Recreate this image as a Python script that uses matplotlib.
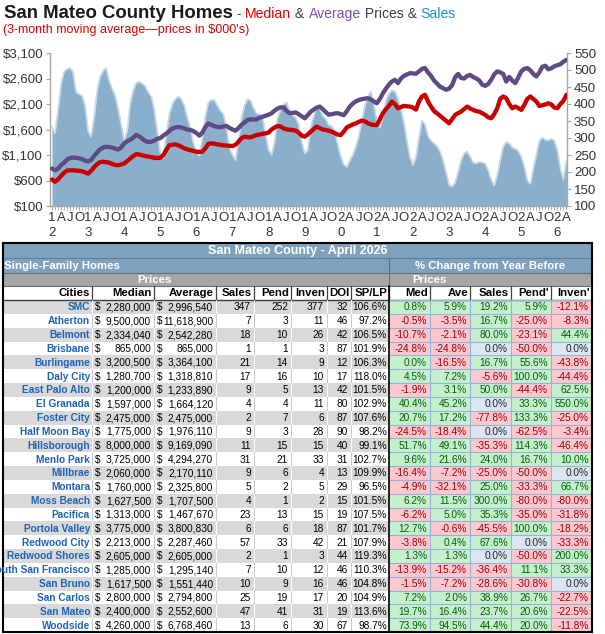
import numpy as np
import matplotlib
matplotlib.use('Agg')
import matplotlib.pyplot as plt
from matplotlib.patches import Rectangle

plt.rcParams['font.family'] = ['Liberation Sans', 'DejaVu Sans']

W, H = 605, 634

# 3-month moving averages, Jan 2012 .. Apr 2026 (prices in $000's)
avg_by_year = [
    [835, 800, 830, 900, 950, 1010, 1040, 1050, 1045, 1035, 1020, 990],
    [975, 1000, 1080, 1150, 1215, 1245, 1262, 1255, 1245, 1225, 1205, 1250],
    [1325, 1370, 1395, 1440, 1495, 1465, 1420, 1375, 1355, 1360, 1380, 1420],
    [1430, 1480, 1520, 1570, 1620, 1640, 1650, 1640, 1620, 1600, 1590, 1570],
    [1530, 1480, 1540, 1650, 1720, 1690, 1665, 1650, 1645, 1660, 1670, 1630],
    [1600, 1575, 1630, 1690, 1740, 1785, 1800, 1795, 1800, 1830, 1850, 1870],
    [1890, 1920, 1970, 2010, 2035, 2030, 1960, 1920, 1925, 1935, 1900, 1860],
    [1820, 1880, 1950, 1990, 2030, 2050, 2000, 1940, 1890, 1900, 1915, 1920],
    [1900, 1880, 1960, 2050, 2110, 2150, 2180, 2195, 2205, 2214, 2190, 2150],
    [2115, 2200, 2310, 2400, 2480, 2540, 2575, 2510, 2600, 2650, 2680, 2706],
    [2700, 2693, 2740, 2790, 2805, 2720, 2650, 2560, 2500, 2440, 2410, 2380],
    [2400, 2470, 2620, 2690, 2610, 2600, 2650, 2670, 2630, 2600, 2565, 2480],
    [2457, 2490, 2575, 2680, 2740, 2720, 2690, 2540, 2630, 2560, 2509, 2620],
    [2740, 2790, 2805, 2760, 2690, 2640, 2720, 2830, 2850, 2780, 2800, 2840],
    [2860, 2880, 2930, 2965],
]
med_by_year = [
    [620, 575, 620, 690, 750, 795, 800, 800, 795, 790, 780, 760],
    [735, 790, 860, 920, 960, 968, 960, 950, 925, 905, 900, 915],
    [934, 980, 1030, 1080, 1117, 1110, 1095, 1080, 1070, 1060, 1045, 1040],
    [1045, 1100, 1200, 1290, 1300, 1308, 1290, 1262, 1230, 1210, 1196, 1180],
    [1165, 1160, 1165, 1230, 1320, 1327, 1320, 1310, 1300, 1290, 1285, 1278],
    [1275, 1300, 1360, 1430, 1459, 1450, 1446, 1470, 1492, 1500, 1515, 1524],
    [1540, 1600, 1640, 1669, 1660, 1620, 1603, 1595, 1590, 1577, 1540, 1480],
    [1459, 1500, 1557, 1610, 1656, 1630, 1600, 1590, 1575, 1557, 1530, 1500],
    [1492, 1560, 1640, 1670, 1700, 1720, 1750, 1774, 1760, 1721, 1700, 1690],
    [1688, 1800, 1918, 2000, 2063, 2148, 2100, 2017, 2040, 2063, 2055, 2050],
    [2030, 1990, 2150, 2247, 2280, 2150, 2050, 1960, 1918, 1870, 1820, 1770],
    [1721, 1800, 1886, 1920, 1951, 2000, 2050, 2010, 1984, 1960, 1951, 1920],
    [1886, 1840, 1820, 1900, 2017, 2200, 2247, 2214, 2100, 2017, 2050, 2020],
    [1984, 2080, 2200, 2247, 2200, 2150, 2063, 2075, 2090, 2115, 2090, 2030],
    [2017, 2100, 2160, 2280],
]
sales_by_year = [
    [333, 314, 380, 460, 495, 503, 506, 495, 435, 428, 425, 395],
    [320, 304, 360, 440, 480, 498, 506, 468, 445, 425, 385, 340],
    [294, 320, 400, 440, 462, 466, 460, 452, 435, 422, 385, 320],
    [255, 240, 310, 370, 400, 415, 422, 415, 395, 360, 330, 285],
    [262, 248, 300, 365, 405, 412, 412, 395, 380, 370, 330, 270],
    [250, 235, 290, 360, 395, 415, 410, 388, 372, 370, 360, 310],
    [265, 250, 290, 360, 383, 400, 405, 380, 366, 360, 340, 290],
    [255, 265, 330, 365, 392, 385, 365, 355, 338, 335, 320, 280],
    [245, 222, 215, 235, 250, 274, 305, 350, 395, 422, 437, 400],
    [345, 330, 363, 410, 430, 440, 437, 415, 385, 345, 290, 245],
    [220, 245, 300, 352, 340, 305, 292, 284, 276, 260, 235, 200],
    [162, 157, 168, 200, 235, 255, 260, 245, 228, 225, 230, 228],
    [225, 205, 178, 160, 190, 235, 275, 288, 284, 272, 268, 262],
    [245, 218, 175, 165, 210, 250, 292, 302, 295, 293, 298, 292],
    [265, 210, 178, 235],
]
avg_3m = sum(avg_by_year, [])
med_3m = sum(med_by_year, [])
sales_3m = sum(sales_by_year, [])
first_year = 12
month_letters = {0: None, 3: 'A', 6: 'J', 9: 'O'}

# table, April 2026
cities = ["SMC", "Atherton", "Belmont", "Brisbane", "Burlingame", "Daly City",
          "East Palo Alto", "El Granada", "Foster City", "Half Moon Bay",
          "Hillsborough", "Menlo Park", "Millbrae", "Montara", "Moss Beach",
          "Pacifica", "Portola Valley", "Redwood City", "Redwood Shores",
          "South San Francisco", "San Bruno", "San Carlos", "San Mateo", "Woodside"]
median = [2280000, 9500000, 2334040, 865000, 3200500, 1280700, 1200000, 1597000,
          2475000, 1775000, 8000000, 3725000, 2060000, 1760000, 1627500, 1313000,
          3775000, 2213000, 2605000, 1285000, 1617500, 2800000, 2400000, 4260000]
average = [2996540, 11618900, 2542280, 865000, 3364100, 1318810, 1233890, 1664120,
           2475000, 1976110, 9169090, 4294270, 2170110, 2325800, 1707500, 1467670,
           3800830, 2287460, 2605000, 1295140, 1551440, 2794800, 2552600, 6768460]
sales = [347, 7, 18, 1, 21, 17, 9, 4, 2, 9, 11, 31, 9, 5, 4, 23, 6, 57, 2, 7, 10, 25, 47, 13]
pend = [252, 3, 10, 1, 14, 16, 5, 4, 7, 3, 15, 21, 6, 2, 1, 13, 6, 33, 1, 10, 9, 19, 41, 6]
inven = [377, 11, 26, 3, 9, 10, 13, 11, 6, 28, 15, 33, 4, 5, 2, 15, 18, 42, 3, 12, 16, 17, 31, 30]
doi = [32, 46, 42, 87, 12, 17, 42, 80, 87, 90, 40, 31, 13, 29, 15, 19, 87, 21, 44, 46, 46, 20, 19, 67]
splp = [106.6, 97.2, 106.5, 101.9, 106.3, 118.0, 101.5, 102.9, 107.6, 98.2, 99.1, 102.7,
        109.9, 96.5, 101.5, 107.5, 101.7, 107.9, 119.3, 110.3, 104.8, 104.9, 113.6, 98.7]
chg_med = [0.8, -0.5, -10.7, -24.8, 0.01, 4.5, -1.9, 40.4, 20.7, -24.5, 51.7, 9.6,
           -16.4, -4.9, 6.2, -6.2, 12.7, -3.8, 1.3, -13.9, -1.5, 7.2, 19.7, 73.9]
chg_ave = [5.9, -3.5, -2.1, -24.8, -16.5, 7.2, 3.1, 45.2, 17.2, -18.4, 49.1, 21.6,
           -7.2, -32.1, 11.5, 5.0, -0.6, 0.4, 1.3, -15.2, -7.2, 2.0, 16.4, 94.5]
chg_sales = [19.2, 16.7, 80.0, 0.0, 16.7, -5.6, 50.0, 0.0, -77.8, 0.0, -35.3, 24.0,
             -25.0, 25.0, 300.0, 35.3, -45.5, 67.6, 0.0, -36.4, -28.6, 38.9, 23.7, 44.4]
chg_pend = [5.9, -25.0, -23.1, -50.0, 55.6, 100.0, -44.4, 33.3, 133.3, -62.5, 114.3, 16.7,
            -50.0, -33.3, -80.0, -35.0, 100.0, 0.0, -50.0, 11.1, -30.8, 26.7, 20.6, 20.0]
chg_inven = [-12.1, -8.3, 44.4, 0.0, -43.8, -44.4, 62.5, 550.0, -25.0, -3.4, -46.4, 10.0,
             0.0, 66.7, -80.0, -31.8, -18.2, -33.3, 200.0, 33.3, 0.0, -22.7, -22.5, -11.8]
col_names = ["Cities", "Median", "Average", "Sales", "Pend", "Inven", "DOI", "SP/LP",
             "Med", "Ave", "Sales", "Pend'", "Inven'"]

fig = plt.figure(figsize=(W / 100, H / 100), dpi=100)


def fx(px):
    return px / W


def fy(py):
    return 1 - py / H


# ---- title pieces
def put_pieces(pieces, x, y):
    r = fig.canvas.get_renderer()
    for txt, col, size, weight in pieces:
        t = fig.text(fx(x), fy(y), txt, color=col, fontsize=size, fontweight=weight,
                     ha='left', va='baseline')
        x += t.get_window_extent(renderer=r).width


put_pieces([("San Mateo County Homes", '#1A1A1A', 13.4, 'bold'),
            (" - ", '#404040', 10.1, 'normal'),
            ("Median", '#E00000', 10.1, 'normal'),
            (" & ", '#404040', 10.1, 'normal'),
            ("Average", '#7A4FA8', 10.1, 'normal'),
            (" Prices & ", '#404040', 10.1, 'normal'),
            ("Sales", '#1E8FD8', 10.1, 'normal')], 4, 18)
fig.text(fx(3), fy(33), "(3-month moving average\u2014prices in $000's)", color='#E00000',
         fontsize=9, ha='left', va='baseline')

# ---- chart
ax_s = fig.add_axes([fx(50), fy(206), (567 - 50) / W, (206 - 53) / H])
ax_p = ax_s.twinx()

months = np.arange(len(sales_3m))
ax_s.fill_between(months, 100, sales_3m, color='#8BAFCB', lw=0, zorder=1)
ax_s.plot(months, sales_3m, color='#C6DAEA', lw=1.2, zorder=2)
ax_p.plot(months, avg_3m, color='#5F4A85', lw=3.1, solid_capstyle='round')
ax_p.plot(months, med_3m, color='#C80000', lw=3.1, solid_capstyle='round')

ax_s.set_xlim(-0.66, len(months) - 0.8)
ax_s.set_ylim(100, 550)
ax_s.set_yticks(range(100, 551, 50))
ax_p.set_ylim(100, 3100)
ax_p.set_yticks(range(100, 3101, 500))
ax_p.set_yticklabels([f"${v:,}" for v in range(100, 3101, 500)])
ax_s.yaxis.tick_right()
ax_p.yaxis.tick_left()

xt, xl = [], []
for m in range(0, len(months), 3):
    k = m % 12
    if k == 0:
        yy = first_year + m // 12
        xl.append(f"{yy // 10}\n{yy % 10}")
    else:
        xl.append(month_letters[k])
    xt.append(m)
ax_s.set_xticks(xt)
ax_s.set_xticklabels(xl, linespacing=1.35)
ax_s.set_xticks(months, minor=True)

for a in (ax_s, ax_p):
    for s in a.spines.values():
        s.set_visible(False)
for side in ('left', 'right', 'bottom'):
    ax_s.spines[side].set_visible(True)
    ax_s.spines[side].set_color('#A6A6A6')
    ax_s.spines[side].set_linewidth(1.0)
ax_s.tick_params(axis='x', which='both', length=3, color='#A6A6A6', labelsize=9.5,
                 labelcolor='#333333', pad=1.5)
ax_s.tick_params(axis='y', length=3, color='#A6A6A6', labelsize=9.5, labelcolor='#333333', pad=2)
ax_p.tick_params(axis='y', length=3, color='#A6A6A6', labelsize=9.5, labelcolor='#333333', pad=2)

# ---- table
tab = fig.add_axes([0, 0, 1, 1])
tab.set_xlim(0, W)
tab.set_ylim(H, 0)
tab.axis('off')
tab.patch.set_visible(False)

edges = [3, 92, 154, 216, 254, 291, 327, 351, 389, 430, 470, 511, 551, 592]
split = 389
top, r1, r2, r3, r4 = 243, 258, 272.5, 286, 300
rh = (632 - r4) / len(cities)
hdr_blue = '#7FA1BD'
hdr_gray = '#A6A6A6'
fs = 7.3


def box(x0, y0, x1, y1, fc):
    tab.add_patch(Rectangle((x0, y0), x1 - x0, y1 - y0, facecolor=fc, edgecolor='none'))


box(edges[0], top, edges[-1], r2, hdr_blue)
box(edges[0], r2, edges[-1], r3, hdr_gray)
box(edges[0], r3, edges[-1], r4, 'white')
tab.plot([edges[0], edges[-1]], [r1, r1], color='#5E7E99', lw=0.8)
tab.plot([edges[0], edges[-1]], [r2, r2], color='#6E6E6E', lw=0.8)
tab.plot([edges[0], edges[-1]], [r3, r3], color='#6E6E6E', lw=0.8)
tab.plot([edges[0], edges[-1]], [r4, r4], color='#404040', lw=1.0)
tab.plot([split, split], [r1, r3], color='#5E6E7E', lw=0.8)

tab.text((edges[0] + edges[-1]) / 2, (top + r1) / 2 + 0.5, "San Mateo County - April 2026",
         color='white', fontsize=9, fontweight='bold', ha='center', va='center')
tab.text(edges[0] + 1, (r1 + r2) / 2 + 0.5, "Single-Family Homes", color='white',
         fontsize=8.2, fontweight='bold', ha='left', va='center')
tab.text((split + edges[-1]) / 2, (r1 + r2) / 2 + 0.5, "% Change from Year Before",
         color='white', fontsize=8.2, fontweight='bold', ha='center', va='center')
tab.text((edges[1] + edges[3]) / 2, (r2 + r3) / 2 + 0.5, "Prices", color='white',
         fontsize=8.2, fontweight='bold', ha='center', va='center')
tab.text((edges[8] + edges[10]) / 2, (r2 + r3) / 2 + 0.5, "Prices", color='white',
         fontsize=8.2, fontweight='bold', ha='center', va='center')
for i, name in enumerate(col_names):
    tab.text(edges[i + 1] - 2, (r3 + r4) / 2 + 0.5, name, color='black', fontsize=8.2,
             fontweight='bold', ha='right', va='center')
    if 0 < i + 1 < len(edges) - 1:
        tab.plot([edges[i + 1], edges[i + 1]], [r3, r4], color='#404040', lw=0.9)

chg_cols = [chg_med, chg_ave, chg_sales, chg_pend, chg_inven]
for r, city in enumerate(cities):
    y0 = r4 + r * rh
    y1 = y0 + rh
    yc = (y0 + y1) / 2 + 0.5
    band = '#D9D9D9' if r % 2 == 0 else 'white'
    box(edges[0], y0, split, y1, band)
    sep = 'white' if r % 2 == 0 else '#C8C8C8'
    for e in edges[1:8]:
        tab.plot([e, e], [y0, y1], color=sep, lw=0.7)
    tab.text(edges[1] - 2, yc, city, color='#1F63B5', fontsize=7.3, fontweight='bold',
             ha='right', va='center', clip_on=True)
    for c, val in ((1, median[r]), (2, average[r])):
        tab.text(edges[c] + 3, yc, "$", fontsize=fs, ha='left', va='center')
        tab.text(edges[c + 1] - 3, yc, f"{val:,}", fontsize=fs, ha='right', va='center')
    for c, val in ((3, sales[r]), (4, pend[r]), (5, inven[r]), (6, doi[r])):
        tab.text(edges[c + 1] - 3, yc, f"{val}", fontsize=fs, ha='right', va='center')
    tab.text(edges[8] - 2, yc, f"{splp[r]:.1f}%", fontsize=fs, ha='right', va='center')
    for j, col in enumerate(chg_cols):
        v = col[r]
        if abs(v) < 0.005:
            fc, tc = '#DCE6F1', '#222222'
        elif v > 0:
            fc, tc = '#C6EFCE', '#006100'
        else:
            fc, tc = '#FFC7CE', '#9C0006'
        x0, x1 = edges[8 + j], edges[9 + j]
        box(x0, y0, x1, y1, fc)
        tab.text(x1 - 3, yc, f"{v:.1f}%", color=tc, fontsize=fs, ha='right', va='center')

# right-section grid
for r in range(len(cities) + 1):
    y = r4 + r * rh
    tab.plot([split, edges[-1]], [y, y], color='#95B3D7', lw=0.8)
for e in edges[9:-1]:
    tab.plot([e, e], [r4, r4 + len(cities) * rh], color='#95B3D7', lw=0.8)

# outer borders
bot = r4 + len(cities) * rh
tab.plot([edges[0], edges[-1]], [top, top], color='black', lw=1.5)
tab.plot([edges[0], edges[-1]], [bot, bot], color='black', lw=1.5)
tab.plot([edges[0], edges[0]], [top, bot], color='black', lw=1.5)
tab.plot([edges[-1], edges[-1]], [top, bot], color='black', lw=1.5)
tab.plot([split, split], [r3, bot], color='black', lw=1.2)

fig.savefig('out.png', dpi=100)
